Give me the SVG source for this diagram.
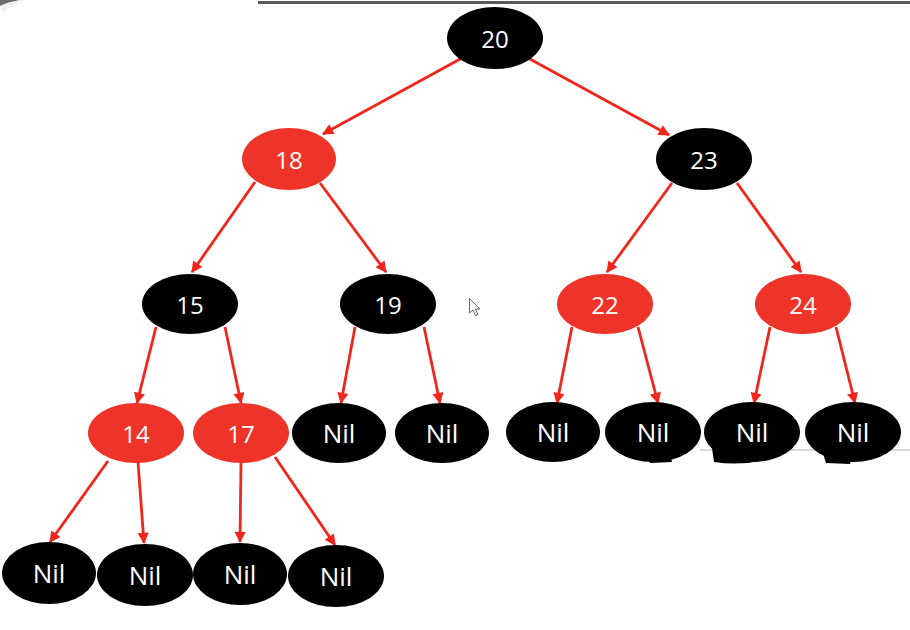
<svg xmlns="http://www.w3.org/2000/svg" width="910" height="630" viewBox="0 0 910 630">
<defs>
<marker id="ah" viewBox="0 0 10 10" refX="9" refY="5" markerWidth="4.5" markerHeight="4" orient="auto" markerUnits="strokeWidth">
<path d="M0,0 L10,5 L0,10 z" fill="#f0261c"/>
</marker>
<style>
.blk{fill:#000}
.red{fill:#ee3329}
.t{font-family:"Open Sans","Liberation Sans",sans-serif;font-size:24px;fill:#fff;text-anchor:middle;dominant-baseline:central}
.n{font-size:26px}
.e{stroke:#f0261c;stroke-width:2.8;fill:none;marker-end:url(#ah)}
</style>
</defs>
<rect width="910" height="630" fill="#fff"/>
<line x1="258" y1="2.5" x2="910" y2="2.5" stroke="#5a5a5a" stroke-width="3"/>
<path d="M0,0 L20,0 Q9,2 0,6 z" fill="#6a6a6a"/>
<path d="M0,6 Q9,2 20,0 L24,0 Q12,5 3,12 z" fill="#eeeeee"/>
<path d="M700,450 L910,450" stroke="#d9d9d9" stroke-width="2"/>
<g id="connectors">
<line class="e" x1="462" y1="58" x2="323" y2="134"/>
<line class="e" x1="528" y1="58" x2="669" y2="135"/>
<line class="e" x1="255" y1="182" x2="192" y2="272"/>
<line class="e" x1="320" y1="183" x2="386" y2="272"/>
<line class="e" x1="672" y1="183" x2="607" y2="272"/>
<line class="e" x1="737" y1="183" x2="801" y2="272"/>
<line class="e" x1="156" y1="327" x2="137" y2="403"/>
<line class="e" x1="225" y1="327" x2="241" y2="403"/>
<line class="e" x1="355" y1="327" x2="341" y2="403"/>
<line class="e" x1="424" y1="327" x2="440" y2="403"/>
<line class="e" x1="572" y1="327" x2="557" y2="403"/>
<line class="e" x1="638" y1="327" x2="658" y2="403"/>
<line class="e" x1="770" y1="327" x2="754" y2="403"/>
<line class="e" x1="836" y1="327" x2="855" y2="403"/>
<line class="e" x1="108" y1="461" x2="50" y2="542"/>
<line class="e" x1="138" y1="462" x2="144" y2="543"/>
<line class="e" x1="241" y1="462" x2="240" y2="542"/>
<line class="e" x1="275" y1="457" x2="335" y2="545"/>
</g>
<g id="n20"><ellipse class="blk" cx="495" cy="38" rx="48" ry="31"/><text class="t" x="495" y="38">20</text></g>
<g id="n18"><ellipse class="red" cx="289" cy="159" rx="47" ry="31"/><text class="t" x="289" y="159">18</text></g>
<g id="n23"><ellipse class="blk" cx="704" cy="159" rx="48" ry="31"/><text class="t" x="704" y="159">23</text></g>
<g id="n15"><ellipse class="blk" cx="190" cy="304" rx="48" ry="30"/><text class="t" x="190" y="304">15</text></g>
<g id="n19"><ellipse class="blk" cx="388" cy="304" rx="48" ry="30"/><text class="t" x="388" y="304">19</text></g>
<g id="n22"><ellipse class="red" cx="605" cy="304" rx="48" ry="30"/><text class="t" x="605" y="304">22</text></g>
<g id="n24"><ellipse class="red" cx="803" cy="304" rx="48" ry="30"/><text class="t" x="803" y="304">24</text></g>
<g id="n14"><ellipse class="red" cx="136" cy="433" rx="48" ry="30"/><text class="t" x="136" y="433">14</text></g>
<g id="n17"><ellipse class="red" cx="241" cy="433" rx="48" ry="30"/><text class="t" x="241" y="433">17</text></g>
<g id="nil19a"><ellipse class="blk" cx="339" cy="433" rx="47" ry="30"/><text class="t n" x="339" y="433">Nil</text></g>
<g id="nil19b"><ellipse class="blk" cx="442" cy="433" rx="47" ry="30"/><text class="t n" x="442" y="433">Nil</text></g>
<g id="nil22a"><ellipse class="blk" cx="553" cy="432" rx="47" ry="30"/><text class="t n" x="553" y="432">Nil</text></g>
<g id="nil22b"><ellipse class="blk" cx="653" cy="432" rx="48" ry="30"/><path class="blk" d="M648,455 L670,455 L672,462 L650,463 z"/><text class="t n" x="653" y="432">Nil</text></g>
<g id="nil24a"><ellipse class="blk" cx="752" cy="432" rx="48" ry="30"/><path class="blk" d="M712,448 Q735,452 760,450 L765,460 Q740,466 714,462 z"/><text class="t n" x="752" y="432">Nil</text></g>
<g id="nil24b"><ellipse class="blk" cx="853" cy="432" rx="48" ry="30"/><path class="blk" d="M822,450 L852,452 L850,464 L826,463 z"/><text class="t n" x="853" y="432">Nil</text></g>
<g id="nil14a"><ellipse class="blk" cx="49" cy="573" rx="47" ry="31"/><text class="t n" x="49" y="573">Nil</text></g>
<g id="nil14b"><ellipse class="blk" cx="145" cy="575" rx="48" ry="31"/><text class="t n" x="145" y="575">Nil</text></g>
<g id="nil17a"><ellipse class="blk" cx="240" cy="574" rx="47" ry="31"/><text class="t n" x="240" y="574">Nil</text></g>
<g id="nil17b"><ellipse class="blk" cx="336" cy="576" rx="48" ry="31"/><text class="t n" x="336" y="576">Nil</text></g>
<path d="M469.5,298.5 L469.5,313 L473,310 L475.5,315.5 L478,314.5 L475.5,309 L480,309 z" fill="#fff" stroke="#666" stroke-width="1"/>
</svg>
